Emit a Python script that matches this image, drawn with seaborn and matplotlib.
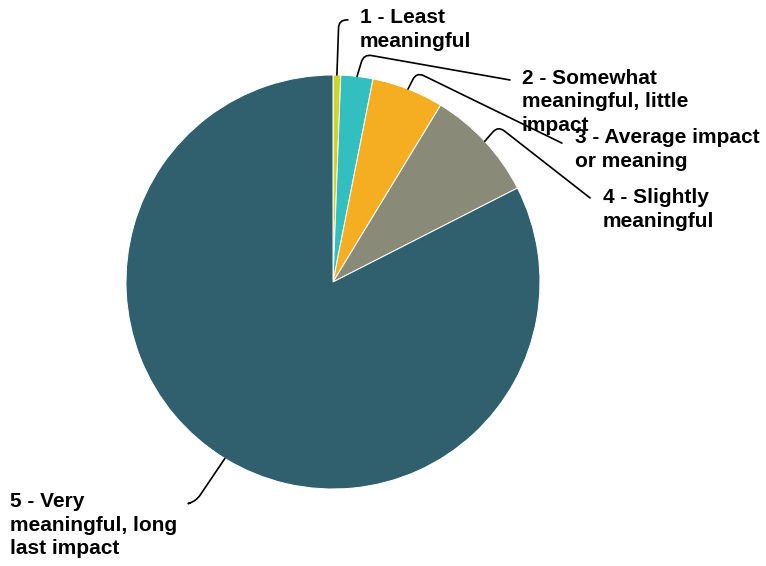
import numpy as np
import matplotlib
matplotlib.use("Agg")
import matplotlib.pyplot as plt
import seaborn as sns

# datos (porcentaje de respuestas)
categorias = ["1 - Least\nmeaningful",
              "2 - Somewhat\nmeaningful, little\nimpact",
              "3 - Average impact\nor meaning",
              "4 - Slightly\nmeaningful",
              "5 - Very\nmeaningful, long\nlast impact"]
valores = [0.6, 2.5, 5.6, 8.8, 82.5]
colores = ["#CDD62A", "#33BEC0", "#F5AE22", "#8A8A79", "#30606E"]

# posiciones de etiquetas y guías (en unidades del radio)
pos_texto = [(0.130, 1.220), (0.913, 0.870), (1.169, 0.640), (1.304, 0.350), (-1.560, -1.174)]
pos_guia = [(0.072, 1.266), (0.855, 0.976), (1.106, 0.671), (1.242, 0.406), (-0.691, -1.068)]
angulos_guia = [(0, 88), (170, 73), (154, 63), (142, 49), (15, 56)]

sns.set_theme(style="white")
plt.rcParams["font.family"] = ["Liberation Sans", "DejaVu Sans"]

fig = plt.figure(figsize=(7.66, 5.66), dpi=100)
cx, cy, r = 333 / 766, (566 - 282) / 566, 207
ax = fig.add_axes([cx - r / 766, cy - r / 566, 2 * r / 766, 2 * r / 566])

wedges, _ = ax.pie(valores, colors=colores, startangle=90, counterclock=False,
                   wedgeprops=dict(edgecolor="white", linewidth=0.7))
ax.set_xlim(-1, 1)
ax.set_ylim(-1, 1)
ax.set_aspect("equal")
ax.axis("off")

for w, texto, pt, pg, (aA, aB) in zip(wedges, categorias, pos_texto, pos_guia, angulos_guia):
    ang = np.deg2rad((w.theta1 + w.theta2) / 2)
    x, y = np.cos(ang), np.sin(ang)
    ax.annotate("", xy=(x, y), xytext=pg, annotation_clip=False,
                arrowprops=dict(arrowstyle="-", color="black", lw=1.2, shrinkA=0, shrinkB=0,
                                connectionstyle=f"angle,angleA={aA},angleB={aB},rad=8"))
    ax.text(pt[0], pt[1], texto, ha="left", va="center", fontsize=15,
            fontweight="bold", linespacing=1.3, color="black")

fig.savefig("out.png", dpi=100)
